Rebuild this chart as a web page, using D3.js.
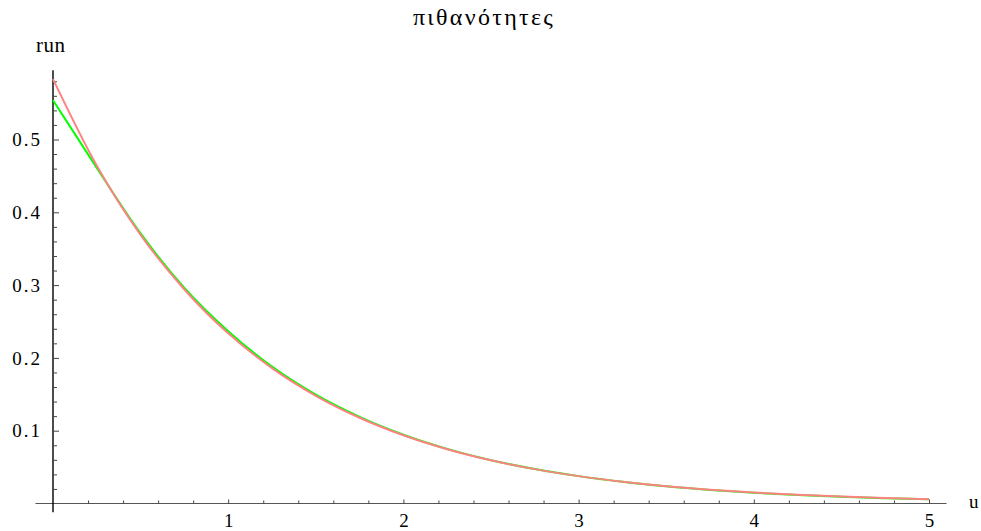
<!DOCTYPE html>
<html>
<head>
<meta charset="utf-8">
<script src="https://cdn.jsdelivr.net/npm/d3@7/dist/d3.min.js"></script>
<style>
  html, body { margin: 0; padding: 0; background: #fff; }
  svg { display: block; }
</style>
</head>
<body>
<script>
// Sample points u (step 0.25)
const uValues = [0, 0.25, 0.5, 0.75, 1, 1.25, 1.5, 1.75, 2, 2.25, 2.5, 2.75,
                 3, 3.25, 3.5, 3.75, 4, 4.25, 4.5, 4.75, 5];
// Green series
const greenValues = [0.554, 0.461, 0.371, 0.296, 0.2365, 0.188, 0.1495, 0.119, 0.0945,
                     0.075, 0.0595, 0.0473, 0.0376, 0.0298, 0.0236, 0.0187, 0.0148,
                     0.0117, 0.0092, 0.0073, 0.0057];
// Red series
const redValues = [0.583, 0.464, 0.369, 0.294, 0.2337, 0.186, 0.148, 0.1178, 0.0937,
                   0.0746, 0.0593, 0.0472, 0.0376, 0.0299, 0.0238, 0.0189, 0.0151,
                   0.0120, 0.0095, 0.0076, 0.0060];
// Tick labels
const xTickValues = [1, 2, 3, 4, 5];
const xTickLabels = ["1", "2", "3", "4", "5"];
const yTickValues = [0.1, 0.2, 0.3, 0.4, 0.5];
const yTickLabels = ["0.1", "0.2", "0.3", "0.4", "0.5"];
const titleText = "πιθανότητες";
const xLabel = "u";
const yLabel = "run";

const FONT = "Liberation Serif";
const W = 981, H = 531;
const svg = d3.select("body").append("svg")
  .attr("width", W).attr("height", H)
  .attr("font-family", FONT);

const x = d3.scaleLinear().domain([0, 5]).range([53, 929]);
const y = d3.scaleLinear().domain([0, 0.5]).range([503.5, 139.5]);

// Axis lines (extend a little past the plotted range)
svg.append("line")
  .attr("x1", x(-0.1)).attr("x2", x(5.1))
  .attr("y1", y(0)).attr("y2", y(0))
  .attr("stroke", "#555").attr("stroke-width", 1.2);
svg.append("line")
  .attr("x1", x(0)).attr("x2", x(0))
  .attr("y1", y(-0.012)).attr("y2", y(0.595))
  .attr("stroke", "#000").attr("stroke-width", 1.4);

// X ticks: minor every 0.2, major at integers
const xMinor = d3.range(0.2, 5.01, 0.2).filter(v => Math.abs(v - Math.round(v)) > 1e-6);
const gxMinor = svg.append("g").attr("transform", `translate(0,${y(0)})`)
  .call(d3.axisBottom(x).tickValues(xMinor).tickSize(-3).tickFormat(""));
const gx = svg.append("g").attr("transform", `translate(0,${y(0)})`)
  .call(d3.axisBottom(x).tickValues(xTickValues).tickSize(-4)
        .tickFormat((d, i) => xTickLabels[i]));

// Y ticks: minor every 0.02, major every 0.1
const yMinor = d3.range(0.02, 0.59, 0.02).filter(v => Math.abs(v * 10 - Math.round(v * 10)) > 1e-6);
const gyMinor = svg.append("g").attr("transform", `translate(${x(0)},0)`)
  .call(d3.axisLeft(y).tickValues(yMinor).tickSize(-4).tickFormat(""));
const gy = svg.append("g").attr("transform", `translate(${x(0)},0)`)
  .call(d3.axisLeft(y).tickValues(yTickValues).tickSize(-6)
        .tickPadding(11).tickFormat((d, i) => yTickLabels[i]));

[gxMinor, gx, gyMinor, gy].forEach(g => {
  g.attr("font-family", FONT).attr("font-size", 19);
  g.select(".domain").remove();
  g.selectAll(".tick line").attr("stroke", "#444").attr("stroke-width", 1);
  g.selectAll(".tick text")
    .attr("font-family", FONT).attr("font-size", 19).attr("fill", "#000");
});
gy.selectAll(".tick text").attr("dy", "0.33em").attr("letter-spacing", 2);
gx.selectAll(".tick text").attr("dy", null).attr("y", 527 - y(0));

// Curves
const line = d3.line().x(d => x(d[0])).y(d => y(d[1])).curve(d3.curveMonotoneX);
svg.append("path")
  .datum(uValues.map((u, i) => [u, greenValues[i]]))
  .attr("d", line).attr("fill", "none")
  .attr("stroke", "#00ff00").attr("stroke-width", 2);
svg.append("path")
  .datum(uValues.map((u, i) => [u, redValues[i]]))
  .attr("d", line).attr("fill", "none")
  .attr("stroke", "#ff8282").attr("stroke-width", 2);

// Title and axis labels
svg.append("text").attr("x", 484).attr("y", 25).attr("text-anchor", "middle")
  .attr("font-family", FONT).attr("font-size", 24)
  .attr("letter-spacing", 2.3).text(titleText);
svg.append("text").attr("x", 36).attr("y", 52)
  .attr("font-family", FONT).attr("font-size", 21)
  .attr("letter-spacing", 0.5).text(yLabel);
svg.append("text").attr("x", 969).attr("y", 508)
  .attr("font-family", FONT).attr("font-size", 19).text(xLabel);
</script>
</body>
</html>
